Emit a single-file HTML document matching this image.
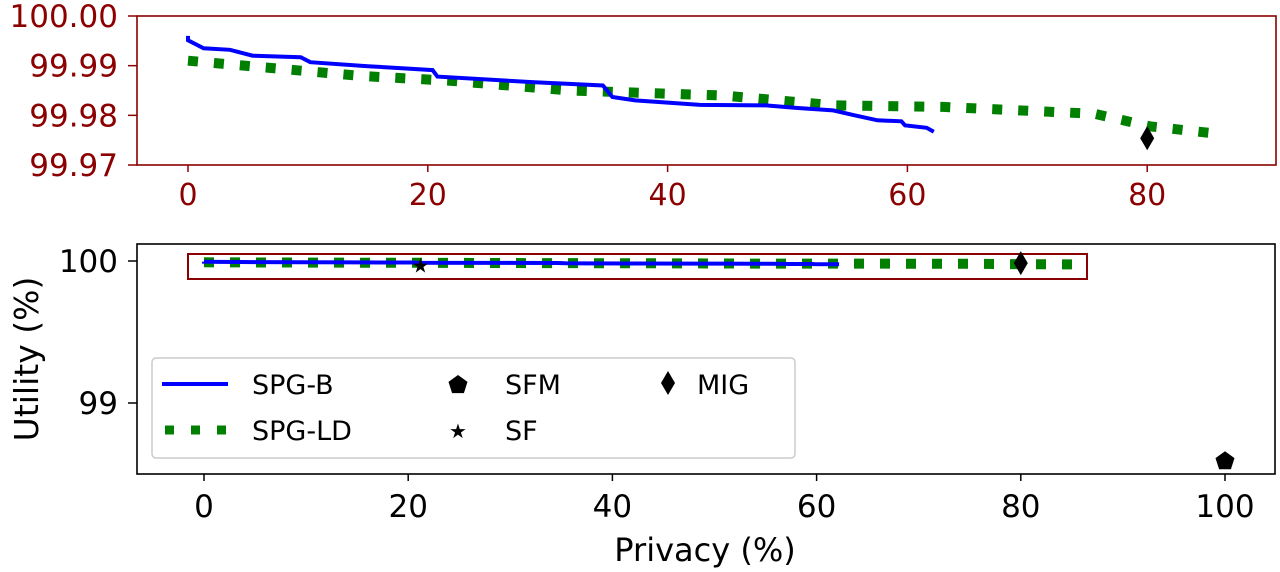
<!DOCTYPE html>
<html><head><meta charset="utf-8"><style>
html,body{margin:0;padding:0;background:#fff;}
svg{display:block;font-family:"DejaVu Sans","Liberation Sans",sans-serif;}
</style></head><body>
<svg id="chart" width="1280" height="572" viewBox="0 0 1280 572" xmlns="http://www.w3.org/2000/svg"></svg>
<script>
const blueX=[0,0,1.3,3.5,5.4,9.4,10.2,15,20.4,20.8,28.7,34.6,35.4,37.3,42.7,48.2,50.7,53.8,55.6,57.5,59.5,59.8,61.6,62.2];
const blueY=[99.996,99.9951,99.9935,99.9932,99.992,99.9917,99.9907,99.9899,99.9891,99.9878,99.9867,99.986,99.9837,99.983,99.9821,99.982,99.9815,99.981,99.98,99.979,99.9788,99.978,99.9775,99.9767];
const greenX=[0,14.6,21.7,31.9,44.6,54,63,75.6,78,80.2,85.8];
const greenY=[99.991,99.9879,99.987,99.985,99.984,99.982,99.9817,99.9803,99.979,99.9778,99.9763];
const migPt=[80,99.9754];
const sfmPt=[100,98.59];
const sfPt=[21.2,99.97];
const migBottom=[80,99.985];
const topXTicks=[0,20,40,60,80];
const topYTicks=[100.00,99.99,99.98,99.97];
const botXTicks=[0,20,40,60,80,100];
const botYTicks=[100,99];

const NS="http://www.w3.org/2000/svg";
const svg=document.getElementById('chart');
function mk(tag,attrs,parent){const e=document.createElementNS(NS,tag);for(const k in attrs)e.setAttribute(k,attrs[k]);(parent||svg).appendChild(e);return e;}
const RED="#8b0000";
const tx=v=>188+v*11.99, ty=v=>16+(100-v)*4967;
const bx=v=>204+v*10.21, by=v=>261+(100-v)*142;

let g=mk('g',{});


let r=mk('rect',{x:137,y:16,width:1139,height:149,fill:'none',stroke:RED,'stroke-width':1.6},g);


topXTicks.forEach(v=>{
  mk('line',{x1:tx(v),x2:tx(v),y1:165,y2:172,stroke:RED,'stroke-width':1.5},g);
  const t=mk('text',{x:tx(v),y:205,'font-size':30,fill:RED,'text-anchor':'middle'},g);
  t.textContent=v;
  
  
});
topYTicks.forEach(v=>{
  mk('line',{x1:128,x2:137,y1:ty(v),y2:ty(v),stroke:RED,'stroke-width':1.5},g);
  const t=mk('text',{x:118,y:ty(v)+11,'font-size':31,fill:RED,'text-anchor':'end'},g);
  t.textContent=v.toFixed(2);
  
  
});
function path(xs,ys,fx,fy){return xs.map((x,i)=>(i?'L':'M')+fx(x).toFixed(1)+','+fy(ys[i]).toFixed(1)).join('');}
let p=mk('path',{d:path(greenX,greenY,tx,ty),fill:'none',stroke:'#007f00','stroke-width':10,'stroke-dasharray':'10 16'},g);


p=mk('path',{d:path(blueX,blueY,tx,ty),fill:'none',stroke:'#0000ff','stroke-width':4},g);


function diamond(cx,cy,parent){return mk('path',{d:`M${cx},${cy-12}L${cx+7},${cy}L${cx},${cy+12}L${cx-7},${cy}Z`,fill:'#000'},parent);}
let d=diamond(tx(migPt[0]),ty(migPt[1]),g);



g=mk('g',{});


r=mk('rect',{x:137,y:244,width:1138,height:230,fill:'none',stroke:'#000','stroke-width':1.6},g);


botXTicks.forEach(v=>{
  mk('line',{x1:bx(v),x2:bx(v),y1:474,y2:481,stroke:'#000','stroke-width':1.5},g);
  const t=mk('text',{x:bx(v),y:517,'font-size':31,fill:'#000','text-anchor':'middle'},g);
  t.textContent=v;
  
  
});
botYTicks.forEach(v=>{
  mk('line',{x1:128,x2:137,y1:by(v),y2:by(v),stroke:'#000','stroke-width':1.5},g);
  const t=mk('text',{x:118,y:by(v)+11,'font-size':31,fill:'#000','text-anchor':'end'},g);
  t.textContent=v;
  
  
});
let t=mk('text',{x:705,y:561,'font-size':32,'text-anchor':'middle'},g);
t.textContent='Privacy (%)';


t=mk('text',{x:0,y:0,'font-size':33,'text-anchor':'middle',transform:'translate(38,359) rotate(-90)'},g);
t.textContent='Utility (%)';


p=mk('path',{d:path(greenX,greenY,bx,by),fill:'none',stroke:'#007f00','stroke-width':10,'stroke-dasharray':'10 16'},g);


p=mk('path',{d:path(blueX,blueY,bx,by),fill:'none',stroke:'#0000ff','stroke-width':4},g);


r=mk('rect',{x:188,y:254,width:899,height:25,fill:'none',stroke:RED,'stroke-width':2},g);


d=diamond(bx(migBottom[0]),by(migBottom[1]),g);


t=mk('text',{x:bx(sfPt[0]),y:by(sfPt[1])+7,'font-size':20,'text-anchor':'middle',fill:'#000'},g);
t.textContent='★';


function pent(cx,cy,s,parent){let pts=[];for(let i=0;i<5;i++){const a=-Math.PI/2+i*2*Math.PI/5;pts.push((cx+s*Math.cos(a)).toFixed(1)+','+(cy+s*Math.sin(a)).toFixed(1));}return mk('polygon',{points:pts.join(' '),fill:'#000'},parent);}
let pe=pent(bx(sfmPt[0]),by(sfmPt[1]),10,g);



const lg=mk('g',{});


mk('rect',{x:152,y:358,width:643,height:100,fill:'#fff',stroke:'#ccc','stroke-width':1.5,rx:4},lg);
function ltext(x,y,s,name){const e=mk('text',{x:x,y:y,'font-size':27},lg);e.textContent=s;}
let e=mk('line',{x1:162,x2:228,y1:384,y2:384,stroke:'#0000ff','stroke-width':4},lg);


ltext(252,394,'SPG-B','legend-entry-spg-b');
e=mk('line',{x1:165,x2:228,y1:430,y2:430,stroke:'#007f00','stroke-width':9,'stroke-dasharray':'9 17'},lg);


ltext(252,440,'SPG-LD','legend-entry-spg-ld');
e=pent(458,385,10,lg);


ltext(505,394,'SFM','legend-entry-sfm');
e=mk('text',{x:458,y:438,'font-size':20,'text-anchor':'middle'},lg);
e.textContent='★';


ltext(505,440,'SF','legend-entry-sf');
e=diamond(668,383,lg);


ltext(697,394,'MIG','legend-entry-mig');
</script>
</body></html>
